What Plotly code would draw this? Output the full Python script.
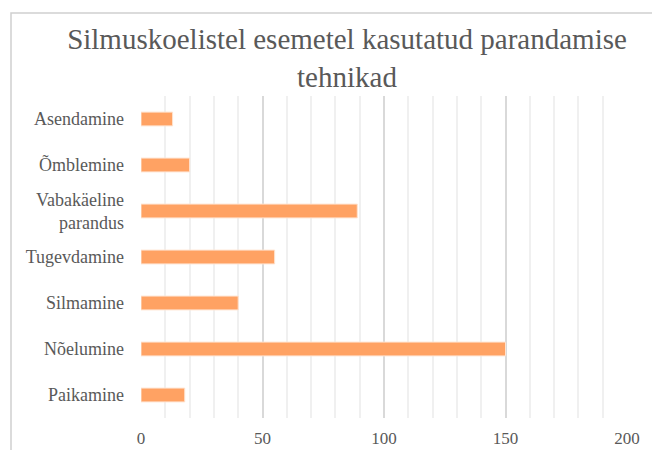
import plotly.graph_objects as go

categories = ["Asendamine", "Õmblemine", "Vabakäeline<br>parandus", "Tugevdamine",
              "Silmamine", "Nõelumine", "Paikamine"]
values = [13, 20, 89, 55, 40, 150, 18]
x_ticks = [0, 50, 100, 150, 200]

title_text = "Silmuskoelistel esemetel kasutatud parandamise<br>tehnikad"

font_family = "Liberation Serif"
text_color = "#595959"

fig = go.Figure(
    go.Bar(
        x=values,
        y=categories,
        orientation="h",
        width=0.3,
        marker=dict(color="#FFA263", line=dict(color="#FFE3CF", width=1)),
    )
)

L, R, T, B = 141, 25, 96, 32
W, H = 652, 450
pw, ph = W - L - R, H - T - B

fig.update_layout(
    width=W,
    height=H,
    margin=dict(l=L, r=R, t=T, b=B, pad=0, autoexpand=False),
    paper_bgcolor="white",
    plot_bgcolor="white",
    showlegend=False,
    font=dict(family=font_family, color=text_color, size=18),
    title=dict(
        text=title_text,
        x=347 / W,
        xanchor="center",
        y=1 - 49 / H,
        yanchor="top",
        automargin=False,
        font=dict(family=font_family, size=29, color=text_color),
    ),
)

fig.update_xaxes(
    range=[0, 200],
    tickvals=x_ticks,
    ticktext=[str(v) for v in x_ticks],
    showgrid=True,
    gridcolor="#D9D9D9",
    gridwidth=1.5,
    zeroline=False,
    showline=False,
    ticks="",
    automargin=False,
    ticklabelstandoff=8,
    tickfont=dict(size=17, color=text_color, family=font_family),
    minor=dict(dtick=10, showgrid=True, gridcolor="#F0F0F0", gridwidth=1.5, ticks=""),
    fixedrange=True,
)
fig.update_yaxes(
    autorange="reversed",
    showgrid=False,
    zeroline=False,
    showline=False,
    ticks="",
    automargin=False,
    ticklabelstandoff=16,
    tickfont=dict(size=18, color=text_color, family=font_family),
    fixedrange=True,
)

# outer chart border (partially outside the visible window, as in the reference)
fig.add_shape(
    type="rect",
    xref="paper", yref="paper",
    x0=(11 - L) / pw, x1=(W + 20 - L) / pw,
    y0=-(B + 20) / ph, y1=(H - B - 13) / ph,
    line=dict(color="#D0D0D0", width=1.5),
    fillcolor="rgba(0,0,0,0)",
    layer="below",
)

fig.write_html(
    "out.html",
    config={"displayModeBar": False},
    post_script="document.body.style.margin='0';document.body.style.overflow='hidden';",
)
